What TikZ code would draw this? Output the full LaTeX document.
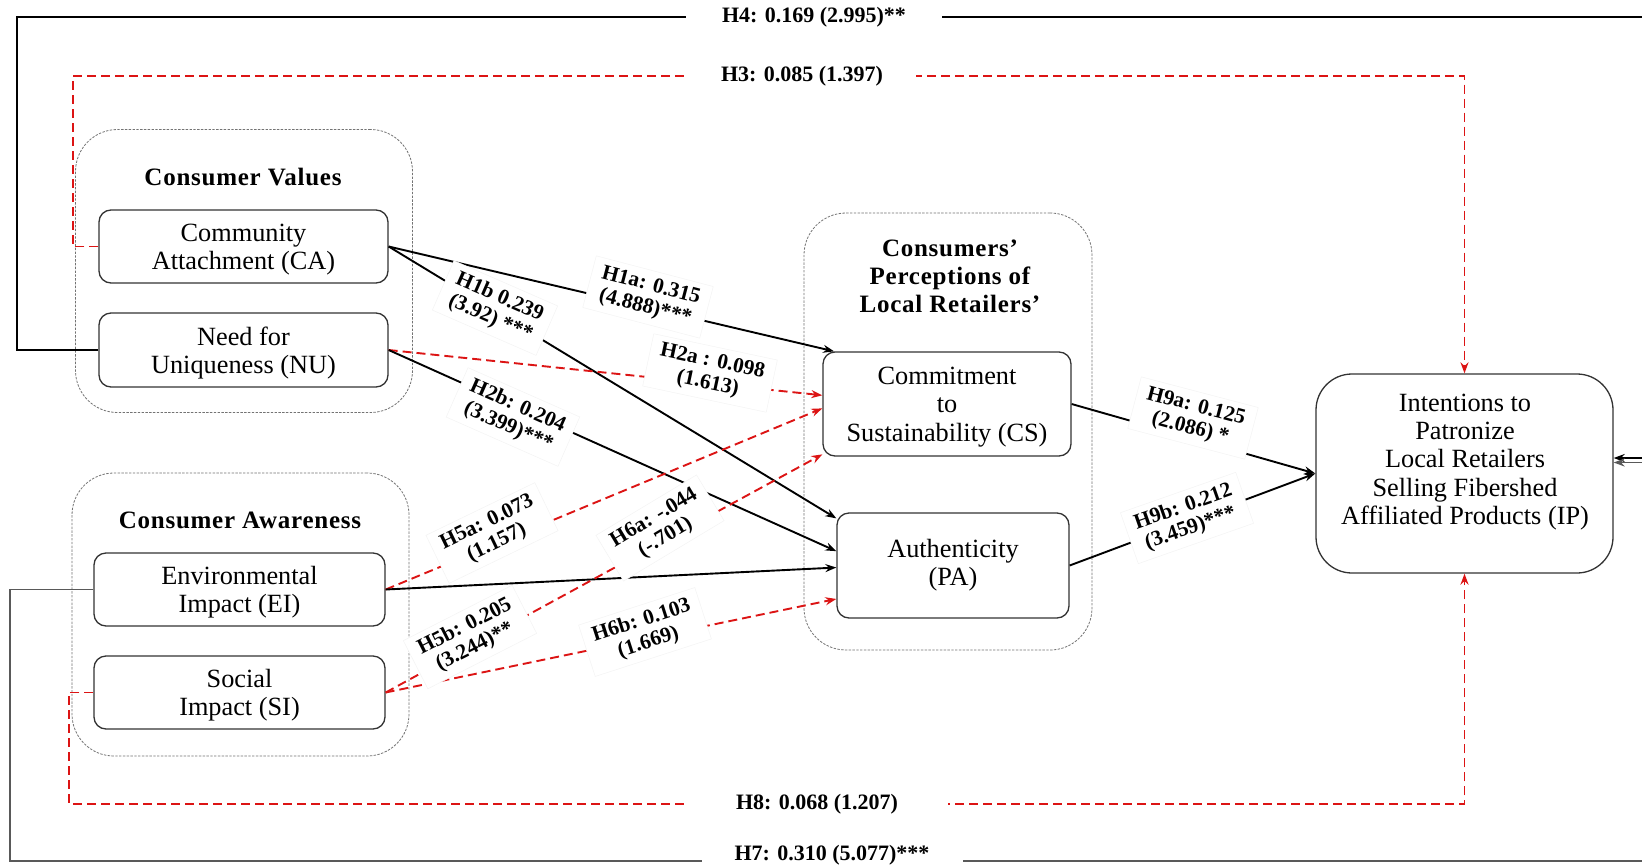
\documentclass[tikz,border=0pt]{standalone}
\usepackage{fontspec}
\setmainfont{Liberation Serif}
\usetikzlibrary{arrows.meta,calc}
\definecolor{pathred}{RGB}{220,20,20}

\begin{document}
\begin{tikzpicture}[x=1pt,y=-1pt,
  box/.style={draw=black!80, line width=1.3pt, rounded corners=12pt, fill=white,
    align=center, font=\fontsize{26.3}{28.3}\selectfont, inner sep=0pt},
  lowered/.style={text depth=0pt},
  bigbox/.style={box, rounded corners=36pt},
  group/.style={draw=black!55, line width=0.8pt, dash pattern=on 2.4pt off 1.4pt,
    rounded corners=42pt, inner sep=0pt},
  grouptitle/.style={font=\fontsize{25}{28}\selectfont\bfseries\addfontfeatures{LetterSpace=3},
    align=center},
  boxtext/.style={font=\fontsize{26.3}{28.3}\selectfont, align=center},
  sig/.style={line width=1.9pt, black, -{Stealth[length=11pt,width=8pt]}},
  ns/.style={line width=1.9pt, pathred, dash pattern=on 9pt off 5pt,
    -{Stealth[length=11pt,width=8pt]}},
  lab/.style={fill=white, draw=black!5, align=center,
    font=\fontsize{21.5}{22.5}\selectfont\bfseries, inner xsep=10pt, inner ysep=6pt},
  hlab/.style={fill=white, font=\fontsize{22}{24}\selectfont\bfseries,
    minimum height=34pt, inner sep=0pt}
]
\useasboundingbox (0,0) rectangle (1642,865);
\fill[white] (0,0) rectangle (1642,865);

% construct groups
\node[group, minimum width=337pt, minimum height=283pt] (cv) at (244,271) {};
\node[grouptitle] (cvt) at (243,177) {Consumer Values};
\node[group, minimum width=337pt, minimum height=283pt] (caw) at (240.5,614.5) {};
\node[grouptitle] (cawt) at (240,520) {Consumer Awareness};
\node[group, minimum width=288pt, minimum height=437pt] (cp) at (948,431.5) {};
\node[grouptitle] (cpt) at (950,276) {Consumers’\\Perceptions of\\Local Retailers’};

% constructs
\node[box, lowered, minimum width=289pt, minimum height=73pt] (CA) at (243.5,246.5)
  {Community\\Attachment (CA)};
\node[box, lowered, minimum width=289pt, minimum height=74pt] (NU) at (243.5,350)
  {Need for\\Uniqueness (NU)};
\node[box, lowered, minimum width=291pt, minimum height=73pt] (EI) at (239.5,589.5)
  {Environmental\\Impact (EI)};
\node[box, lowered, minimum width=291pt, minimum height=73pt] (SI) at (239.5,692.5)
  {Social\\Impact (SI)};
\node[box, lowered, minimum width=248pt, minimum height=104pt] (CS) at (947,404)
  {Commitment\\to\\Sustainability (CS)};
\node[box, minimum width=232pt, minimum height=105pt] (PA) at (953,565.5)
  {Authenticity\\(PA)};
\node[bigbox, minimum width=297pt, minimum height=199pt] (IP) at (1464.5,473.5) {};
\node[boxtext] (IPt) at (1465,462)
  {Intentions to\\Patronize\\Local Retailers\\Selling Fibershed\\Affiliated Products (IP)};

% paths to the mediators
\draw[sig] (CA.east) -- (CS.155);
\draw[sig] (CA.east) -- (PA.158);
\draw[ns]  (NU.east) -- (CS.176);
\draw[sig] (NU.east) -- (PA.173);
\draw[ns]  (EI.east) -- (CS.182);
\draw[sig] (EI.east) -- (PA.181);
\draw[ns]  (SI.east) -- (CS.202);
\draw[ns]  (SI.east) -- (PA.196);

% paths to the outcome
\draw[sig] (CS.east) -- (IP.west);
\draw[sig] (PA.east) -- (IP.west);

% direct paths
\draw[sig] (NU.west) -| (17,17) -- (1660,17) |- ($(IP.east)+(0,-15.5)$);
\draw[sig, draw=black!65] (EI.west) -| (10,861) -- (1650,861) |- ($(IP.east)+(0,-11)$);
\draw[ns] (CA.west) -| (73,76) -| (IP.north);
\draw[ns] (SI.west) -| (69,804) -| (IP.south);

% coefficient labels
\node[hlab, minimum width=256pt] (h4) at (814,17) {H4: 0.169 (2.995)**};
\node[hlab, minimum width=227pt] (h3) at (802,76) {H3: 0.085 (1.397)};
\node[hlab, minimum width=262pt] (h8) at (817,804) {H8: 0.068 (1.207)};
\node[hlab, minimum width=261pt] (h7) at (832,855) {H7: 0.310 (5.077)***};

\node[lab, rotate=-23.6] (h1b) at (495,308) {H1b 0.239\\(3.92) ***};
\node[lab, rotate=-14.7] (h1a) at (648,297) {H1a: 0.315\\(4.888)***};
\node[lab, rotate=-12]   (h2a) at (710,373) {H2a : 0.098\\(1.613)};
\node[lab, rotate=-23.8] (h2b) at (513,417) {H2b: 0.204\\(3.399)***};
\node[lab, rotate=25.8]  (h5a) at (492,533) {H5a: 0.073\\(1.157)};
\node[lab, rotate=31]    (h6a) at (660,528) {H6a: -.044\\(-.701)};
\node[lab, rotate=27]    (h5b) at (470,637) {H5b: 0.205\\(3.244)**};
\node[lab, rotate=17.9]  (h6b) at (645,632) {H6b: 0.103\\(1.669)};
\node[lab, rotate=-14.7] (h9a) at (1193,418) {H9a: 0.125\\(2.086) *};
\node[lab, rotate=19.3]  (h9b) at (1187,518) {H9b: 0.212\\(3.459)***};
\end{tikzpicture}
\end{document}
